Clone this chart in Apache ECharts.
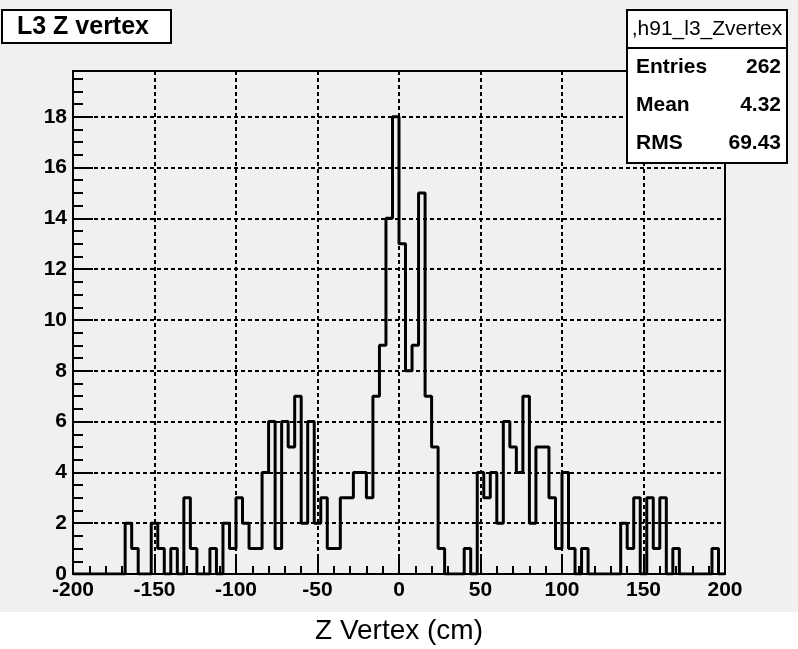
<!DOCTYPE html>
<html><head><meta charset="utf-8">
<script src="https://cdn.jsdelivr.net/npm/echarts@6/dist/echarts.min.js"></script>
<style>html,body{margin:0;padding:0;background:#fff}#c{width:798px;height:649px}</style>
</head><body><div id="c"></div><script>
// ---- data ----
const xMin = -200, xMax = 200, binWidth = 4;
const counts = [
  0,0,0,0,0,0,0,0,2,1,
  0,0,2,1,0,1,0,3,1,0,
  0,1,0,2,1,3,2,1,1,4,
  6,1,6,5,7,2,6,2,3,1,
  1,3,3,4,4,3,7,9,14,18,
  13,8,9,15,7,5,1,0,0,0,
  1,0,4,3,4,2,6,5,4,7,
  2,5,5,3,1,4,1,0,1,0,
  0,0,0,0,2,1,3,0,3,1,
  3,0,1,0,0,0,0,0,1,0
];
const xTickValues = [-200,-150,-100,-50,0,50,100,150,200];
const yTickValues = [0,2,4,6,8,10,12,14,16,18];
const yMax = 19.8;
const titleText = 'L3 Z vertex';
const statsName = ',h91_l3_Zvertex';
const statsLabels = ['Entries','Mean','RMS'];
const statsValues = ['262','4.32','69.43'];
const xAxisTitle = 'Z Vertex (cm)';

// ---- build ----
const binEdges = counts.map((_, i) => xMin + i * binWidth);
const stepData = binEdges.map((e, i) => [e, counts[i]]);
stepData.push([xMax, counts[counts.length - 1]]);

const FONT = "'Liberation Sans', Arial, sans-serif";
const chart = echarts.init(document.getElementById('c'), null, {renderer: 'canvas'});

const gridDash = {color: '#000', width: 2, type: [4, 3]};

const statRows = statsLabels.map((lab, i) => ([
  {type: 'text', z: 101, style: {x: 636, y: 67.5 + i * 38, text: lab, fill: '#000',
    font: 'bold 21px ' + FONT, textAlign: 'left', textVerticalAlign: 'middle'}},
  {type: 'text', z: 101, style: {x: 781, y: 67.5 + i * 38, text: statsValues[i], fill: '#000',
    font: 'bold 21px ' + FONT, textAlign: 'right', textVerticalAlign: 'middle'}}
])).flat();

chart.setOption({
  animation: false,
  backgroundColor: '#f0f0f0',
  grid: {left: 73, top: 71, width: 652, height: 503, show: true, borderColor: '#000', borderWidth: 2,
    backgroundColor: 'transparent'},
  xAxis: {
    type: 'value', min: xMin, max: xMax, interval: 50,
    axisLine: {show: true, onZero: false, lineStyle: {color: '#000', width: 2}},
    axisTick: {show: true, inside: true, length: 16, lineStyle: {color: '#000', width: 2}},
    minorTick: {show: true, splitNumber: 5, length: 8, lineStyle: {color: '#000', width: 2}},
    splitLine: {show: true, lineStyle: gridDash},
    axisLabel: {margin: 6, color: '#000', fontFamily: FONT, fontWeight: 'bold', fontSize: 21,
      formatter: v => xTickValues.includes(v) ? String(v) : ''}
  },
  yAxis: {
    type: 'value', min: 0, max: yMax, interval: 2,
    axisLine: {show: true, onZero: false, lineStyle: {color: '#000', width: 2}},
    axisTick: {show: true, inside: true, length: 20, lineStyle: {color: '#000', width: 2}},
    minorTick: {show: true, splitNumber: 4, length: 10, lineStyle: {color: '#000', width: 2}},
    splitLine: {show: true, lineStyle: gridDash},
    axisLabel: {margin: 6, color: '#000', fontFamily: FONT, fontWeight: 'bold', fontSize: 21,
      showMaxLabel: false,
      formatter: v => yTickValues.includes(v) ? String(v) : ''}
  },
  series: [{
    type: 'line', step: 'end', data: stepData, symbol: 'none', z: 5,
    lineStyle: {color: '#000', width: 3}
  }],
  graphic: [
    {type: 'rect', z: 100, shape: {x: 0, y: 612, width: 798, height: 37}, style: {fill: '#fff'}},
    {type: 'text', z: 101, style: {x: 399, y: 631, text: xAxisTitle, fill: '#000',
      font: '28px ' + FONT, textAlign: 'center', textVerticalAlign: 'middle'}},
    {type: 'rect', z: 100, shape: {x: 2, y: 10, width: 169, height: 33},
      style: {fill: '#fff', stroke: '#000', lineWidth: 2}},
    {type: 'text', z: 101, style: {x: 17, y: 27, text: titleText, fill: '#000',
      font: 'bold 25px ' + FONT, textAlign: 'left', textVerticalAlign: 'middle'}},
    {type: 'rect', z: 100, shape: {x: 627, y: 10, width: 160, height: 153},
      style: {fill: '#fff', stroke: '#000', lineWidth: 2}},
    {type: 'line', z: 101, shape: {x1: 627, y1: 48, x2: 787, y2: 48}, style: {stroke: '#000', lineWidth: 2}},
    {type: 'text', z: 101, style: {x: 707, y: 29, text: statsName, fill: '#000',
      font: '21px ' + FONT, textAlign: 'center', textVerticalAlign: 'middle'}}
  ].concat(statRows)
});
</script></body></html>
